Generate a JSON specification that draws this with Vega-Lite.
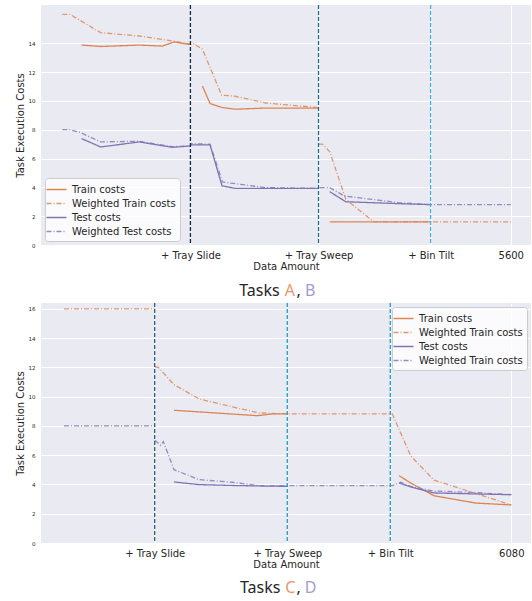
{
  "$schema": "https://vega.github.io/schema/vega-lite/v6.json",
  "background": "white",
  "padding": {"left": 15, "top": 4, "right": 0, "bottom": 0},
  "spacing": 3,
  "config": {
    "view": {"fill": "#eaeaf2", "stroke": null},
    "axis": {"grid": true, "gridColor": "white", "gridWidth": 1, "domain": false, "ticks": false, "tickSize": 0,
      "labelFont": "DejaVu Sans", "titleFont": "DejaVu Sans", "labelColor": "#262626", "titleColor": "#262626",
      "titleFontWeight": "normal", "titleFontSize": 10, "labelOverlap": false},
    "axisX": {"labelFontSize": 10, "labelPadding": 5, "titlePadding": 1, "labelFlush": false},
    "axisY": {"labelFontSize": 5.5, "labelPadding": 6, "titlePadding": 3},
    "legend": {"fillColor": "rgba(255,255,255,0.8)", "strokeColor": "#cccccc", "cornerRadius": 3, "padding": 4,
      "labelFont": "DejaVu Sans", "labelFontSize": 10, "labelColor": "#262626", "labelOffset": 8, "rowPadding": 1,
      "symbolType": "M-1.5,0H1.5", "symbolSize": 178, "symbolStrokeWidth": 1.5, "offset": 4}
  },
  "datasets": {
    "p1": [
      {"series": "Weighted Train costs", "seg": 1, "amount": 0, "cost": 16.0},
      {"series": "Weighted Train costs", "seg": 1, "amount": 96, "cost": 16.0},
      {"series": "Weighted Train costs", "seg": 1, "amount": 480, "cost": 14.73},
      {"series": "Weighted Train costs", "seg": 1, "amount": 960, "cost": 14.5},
      {"series": "Weighted Train costs", "seg": 1, "amount": 1370, "cost": 14.16},
      {"series": "Weighted Train costs", "seg": 1, "amount": 1600, "cost": 13.93},
      {"series": "Weighted Train costs", "seg": 1, "amount": 1630, "cost": 14.0},
      {"series": "Weighted Train costs", "seg": 1, "amount": 1750, "cost": 13.58},
      {"series": "Weighted Train costs", "seg": 1, "amount": 1990, "cost": 10.39},
      {"series": "Weighted Train costs", "seg": 1, "amount": 2140, "cost": 10.34},
      {"series": "Weighted Train costs", "seg": 1, "amount": 2540, "cost": 9.85},
      {"series": "Weighted Train costs", "seg": 1, "amount": 3200, "cost": 9.53},
      {"series": "Weighted Train costs", "seg": 2, "amount": 3200, "cost": 7.0},
      {"series": "Weighted Train costs", "seg": 2, "amount": 3250, "cost": 7.0},
      {"series": "Weighted Train costs", "seg": 2, "amount": 3340, "cost": 6.47},
      {"series": "Weighted Train costs", "seg": 2, "amount": 3540, "cost": 3.17},
      {"series": "Weighted Train costs", "seg": 2, "amount": 3890, "cost": 1.6},
      {"series": "Weighted Train costs", "seg": 2, "amount": 5600, "cost": 1.6},
      {"series": "Train costs", "seg": 1, "amount": 240, "cost": 13.87},
      {"series": "Train costs", "seg": 1, "amount": 480, "cost": 13.77},
      {"series": "Train costs", "seg": 1, "amount": 960, "cost": 13.87},
      {"series": "Train costs", "seg": 1, "amount": 1250, "cost": 13.8},
      {"series": "Train costs", "seg": 1, "amount": 1395, "cost": 14.09},
      {"series": "Train costs", "seg": 1, "amount": 1600, "cost": 13.9},
      {"series": "Train costs", "seg": 2, "amount": 1750, "cost": 11.03},
      {"series": "Train costs", "seg": 2, "amount": 1845, "cost": 9.81},
      {"series": "Train costs", "seg": 2, "amount": 2000, "cost": 9.53},
      {"series": "Train costs", "seg": 2, "amount": 2160, "cost": 9.42},
      {"series": "Train costs", "seg": 2, "amount": 2540, "cost": 9.5},
      {"series": "Train costs", "seg": 2, "amount": 3200, "cost": 9.49},
      {"series": "Train costs", "seg": 3, "amount": 3340, "cost": 1.6},
      {"series": "Train costs", "seg": 3, "amount": 4600, "cost": 1.6},
      {"series": "Weighted Test costs", "seg": 1, "amount": 0, "cost": 8.0},
      {"series": "Weighted Test costs", "seg": 1, "amount": 96, "cost": 8.0},
      {"series": "Weighted Test costs", "seg": 1, "amount": 230, "cost": 7.79},
      {"series": "Weighted Test costs", "seg": 1, "amount": 480, "cost": 7.15},
      {"series": "Weighted Test costs", "seg": 1, "amount": 960, "cost": 7.2},
      {"series": "Weighted Test costs", "seg": 1, "amount": 1370, "cost": 6.82},
      {"series": "Weighted Test costs", "seg": 1, "amount": 1600, "cost": 6.87},
      {"series": "Weighted Test costs", "seg": 1, "amount": 1610, "cost": 7.03},
      {"series": "Weighted Test costs", "seg": 1, "amount": 1845, "cost": 6.99},
      {"series": "Weighted Test costs", "seg": 1, "amount": 2000, "cost": 4.37},
      {"series": "Weighted Test costs", "seg": 1, "amount": 2540, "cost": 3.98},
      {"series": "Weighted Test costs", "seg": 1, "amount": 3200, "cost": 3.93},
      {"series": "Weighted Test costs", "seg": 1, "amount": 3210, "cost": 3.98},
      {"series": "Weighted Test costs", "seg": 1, "amount": 3340, "cost": 3.98},
      {"series": "Weighted Test costs", "seg": 1, "amount": 3520, "cost": 3.4},
      {"series": "Weighted Test costs", "seg": 1, "amount": 4200, "cost": 2.94},
      {"series": "Weighted Test costs", "seg": 1, "amount": 4600, "cost": 2.8},
      {"series": "Weighted Test costs", "seg": 1, "amount": 5600, "cost": 2.8},
      {"series": "Test costs", "seg": 1, "amount": 240, "cost": 7.38},
      {"series": "Test costs", "seg": 1, "amount": 480, "cost": 6.8},
      {"series": "Test costs", "seg": 1, "amount": 960, "cost": 7.15},
      {"series": "Test costs", "seg": 1, "amount": 1370, "cost": 6.78},
      {"series": "Test costs", "seg": 1, "amount": 1600, "cost": 6.87},
      {"series": "Test costs", "seg": 2, "amount": 1600, "cost": 6.94},
      {"series": "Test costs", "seg": 2, "amount": 1845, "cost": 6.94},
      {"series": "Test costs", "seg": 2, "amount": 1995, "cost": 4.1},
      {"series": "Test costs", "seg": 2, "amount": 2160, "cost": 3.93},
      {"series": "Test costs", "seg": 2, "amount": 3200, "cost": 3.93},
      {"series": "Test costs", "seg": 3, "amount": 3340, "cost": 3.7},
      {"series": "Test costs", "seg": 3, "amount": 3540, "cost": 3.0},
      {"series": "Test costs", "seg": 3, "amount": 4200, "cost": 2.87},
      {"series": "Test costs", "seg": 3, "amount": 4600, "cost": 2.8}
    ],
    "p1rules": [
      {"amount": 1600, "boundary": "Tray Slide"},
      {"amount": 3200, "boundary": "Tray Sweep"},
      {"amount": 4600, "boundary": "Bin Tilt"}
    ],
    "p2": [
      {"series": "Weighted Train costs", "seg": 1, "amount": 0, "cost": 16.0},
      {"series": "Weighted Train costs", "seg": 1, "amount": 1233, "cost": 16.0},
      {"series": "Weighted Train costs", "seg": 2, "amount": 1233, "cost": 12.03},
      {"series": "Weighted Train costs", "seg": 2, "amount": 1282, "cost": 12.0},
      {"series": "Weighted Train costs", "seg": 2, "amount": 1495, "cost": 10.82},
      {"series": "Weighted Train costs", "seg": 2, "amount": 1835, "cost": 9.85},
      {"series": "Weighted Train costs", "seg": 2, "amount": 2288, "cost": 9.3},
      {"series": "Weighted Train costs", "seg": 2, "amount": 2651, "cost": 8.89},
      {"series": "Weighted Train costs", "seg": 2, "amount": 3035, "cost": 8.82},
      {"series": "Weighted Train costs", "seg": 2, "amount": 4463, "cost": 8.82},
      {"series": "Weighted Train costs", "seg": 2, "amount": 4713, "cost": 5.95},
      {"series": "Weighted Train costs", "seg": 2, "amount": 5029, "cost": 4.3},
      {"series": "Weighted Train costs", "seg": 2, "amount": 6080, "cost": 2.6},
      {"series": "Train costs", "seg": 2, "amount": 1495, "cost": 9.07},
      {"series": "Train costs", "seg": 2, "amount": 2627, "cost": 8.7},
      {"series": "Train costs", "seg": 2, "amount": 2831, "cost": 8.82},
      {"series": "Train costs", "seg": 2, "amount": 3035, "cost": 8.82},
      {"series": "Train costs", "seg": 3, "amount": 4554, "cost": 4.6},
      {"series": "Train costs", "seg": 3, "amount": 4713, "cost": 4.1},
      {"series": "Train costs", "seg": 3, "amount": 5029, "cost": 3.23},
      {"series": "Train costs", "seg": 3, "amount": 5596, "cost": 2.73},
      {"series": "Train costs", "seg": 3, "amount": 6080, "cost": 2.6},
      {"series": "Weighted Test costs", "seg": 1, "amount": 0, "cost": 8.0},
      {"series": "Weighted Test costs", "seg": 1, "amount": 1233, "cost": 8.0},
      {"series": "Weighted Test costs", "seg": 2, "amount": 1233, "cost": 7.02},
      {"series": "Weighted Test costs", "seg": 2, "amount": 1314, "cost": 6.68},
      {"series": "Weighted Test costs", "seg": 2, "amount": 1350, "cost": 6.93},
      {"series": "Weighted Test costs", "seg": 2, "amount": 1495, "cost": 5.01},
      {"series": "Weighted Test costs", "seg": 2, "amount": 1835, "cost": 4.33},
      {"series": "Weighted Test costs", "seg": 2, "amount": 2288, "cost": 4.15},
      {"series": "Weighted Test costs", "seg": 2, "amount": 2650, "cost": 3.92},
      {"series": "Weighted Test costs", "seg": 2, "amount": 3035, "cost": 3.92},
      {"series": "Weighted Test costs", "seg": 2, "amount": 4463, "cost": 3.92},
      {"series": "Weighted Test costs", "seg": 2, "amount": 4577, "cost": 4.15},
      {"series": "Weighted Test costs", "seg": 2, "amount": 4713, "cost": 3.87},
      {"series": "Weighted Test costs", "seg": 2, "amount": 5029, "cost": 3.55},
      {"series": "Weighted Test costs", "seg": 2, "amount": 5550, "cost": 3.46},
      {"series": "Weighted Test costs", "seg": 2, "amount": 6080, "cost": 3.3},
      {"series": "Test costs", "seg": 2, "amount": 1495, "cost": 4.17},
      {"series": "Test costs", "seg": 2, "amount": 1835, "cost": 3.99},
      {"series": "Test costs", "seg": 2, "amount": 2379, "cost": 3.92},
      {"series": "Test costs", "seg": 2, "amount": 3035, "cost": 3.87},
      {"series": "Test costs", "seg": 3, "amount": 4554, "cost": 4.1},
      {"series": "Test costs", "seg": 3, "amount": 4734, "cost": 3.8},
      {"series": "Test costs", "seg": 3, "amount": 5029, "cost": 3.42},
      {"series": "Test costs", "seg": 3, "amount": 6080, "cost": 3.3}
    ],
    "p2rules": [
      {"amount": 1233, "boundary": "Tray Slide"},
      {"amount": 3035, "boundary": "Tray Sweep"},
      {"amount": 4435, "boundary": "Bin Tilt"}
    ]
  },
  "vconcat": [
    {
      "width": 490,
      "height": 240,
      "layer": [
        {
          "data": {"name": "p1"},
          "mark": {"type": "line", "strokeWidth": 1.3},
          "encoding": {
            "x": {"field": "amount", "type": "quantitative", "title": "Data Amount",
              "scale": {"domain": [-266, 5853], "nice": false, "zero": false},
              "axis": {"values": [1600, 3200, 4600, 5600], "labelOverlap": false,
                "labelExpr": "datum.value == 1600 ? '+ Tray Slide' : datum.value == 3200 ? '+ Tray Sweep' : datum.value == 4600 ? '+ Bin Tilt' : '5600'"}},
            "y": {"field": "cost", "type": "quantitative", "title": "Task Execution Costs",
              "scale": {"domain": [0, 16.65], "nice": false},
              "axis": {"values": [0, 2, 4, 6, 8, 10, 12, 14], "labelOverlap": false, "tickCount": 9}},
            "color": {"field": "series", "type": "nominal",
              "scale": {"domain": ["Train costs", "Weighted Train costs", "Test costs", "Weighted Test costs"],
                "range": ["#dd8452", "#e0986f", "#8172b3", "#968ac0"]},
              "legend": {"title": null, "orient": "bottom-left"}},
            "strokeDash": {"field": "series", "type": "nominal",
              "scale": {"domain": ["Train costs", "Weighted Train costs", "Test costs", "Weighted Test costs"],
                "range": [[1, 0], [5, 2, 1, 2], [1, 0], [5, 2, 1, 2]]},
              "legend": {"title": null, "orient": "bottom-left"}},
            "detail": {"field": "seg", "type": "nominal"},
            "order": {"field": "amount", "type": "quantitative"}
          }
        },
        {
          "data": {"name": "p1rules"},
          "mark": {"type": "rule", "strokeDash": [4, 2], "strokeWidth": 1.3},
          "encoding": {
            "x": {"field": "amount", "type": "quantitative"},
            "stroke": {"field": "boundary", "type": "nominal",
              "scale": {"domain": ["Tray Slide", "Tray Sweep", "Bin Tilt"], "range": ["#102a4c", "#1d6a96", "#3ab0e2"]},
              "legend": null}
          }
        },
        {
          "data": {"values": [{}]},
          "mark": {"type": "text", "font": "Noto Sans", "fontSize": 16, "align": "center", "baseline": "alphabetic", "color": "#262626", "text": "Tasks"},
          "encoding": {"x": {"datum": 2461}, "y": {"datum": -3.52}}
        },
        {
          "data": {"values": [{}]},
          "mark": {"type": "text", "font": "Noto Sans", "fontSize": 16, "align": "center", "baseline": "alphabetic", "color": "#e99868", "text": "A"},
          "encoding": {"x": {"datum": 2841}, "y": {"datum": -3.52}}
        },
        {
          "data": {"values": [{}]},
          "mark": {"type": "text", "font": "Noto Sans", "fontSize": 16, "align": "center", "baseline": "alphabetic", "color": "#262626", "text": ","},
          "encoding": {"x": {"datum": 2950}, "y": {"datum": -3.52}}
        },
        {
          "data": {"values": [{}]},
          "mark": {"type": "text", "font": "Noto Sans", "fontSize": 16, "align": "center", "baseline": "alphabetic", "color": "#a39bd4", "text": "B"},
          "encoding": {"x": {"datum": 3096}, "y": {"datum": -3.52}}
        }
      ]
    },
    {
      "width": 490,
      "height": 240,
      "layer": [
        {
          "data": {"name": "p2"},
          "mark": {"type": "line", "strokeWidth": 1.3},
          "encoding": {
            "x": {"field": "amount", "type": "quantitative", "title": "Data Amount",
              "scale": {"domain": [-313, 6348], "nice": false, "zero": false},
              "axis": {"values": [1233, 3035, 4435, 6080], "labelOverlap": false,
                "labelExpr": "datum.value == 1233 ? '+ Tray Slide' : datum.value == 3035 ? '+ Tray Sweep' : datum.value == 4435 ? '+ Bin Tilt' : '6080'"}},
            "y": {"field": "cost", "type": "quantitative", "title": "Task Execution Costs",
              "scale": {"domain": [0, 16.4], "nice": false},
              "axis": {"values": [0, 2, 4, 6, 8, 10, 12, 14, 16], "labelOverlap": false, "tickCount": 9}},
            "color": {"field": "series", "type": "nominal",
              "scale": {"domain": ["Train costs", "Weighted Train costs", "Test costs", "Weighted Test costs"],
                "range": ["#dd8452", "#e0986f", "#8172b3", "#968ac0"]},
              "legend": {"title": null, "orient": "top-right",
                "labelExpr": "datum.label == 'Weighted Test costs' ? 'Weighted Train costs' : datum.label"}},
            "strokeDash": {"field": "series", "type": "nominal",
              "scale": {"domain": ["Train costs", "Weighted Train costs", "Test costs", "Weighted Test costs"],
                "range": [[1, 0], [5, 2, 1, 2], [1, 0], [5, 2, 1, 2]]},
              "legend": {"title": null, "orient": "top-right",
                "labelExpr": "datum.label == 'Weighted Test costs' ? 'Weighted Train costs' : datum.label"}},
            "detail": {"field": "seg", "type": "nominal"},
            "order": {"field": "amount", "type": "quantitative"}
          }
        },
        {
          "data": {"name": "p2rules"},
          "mark": {"type": "rule", "strokeDash": [4, 2], "strokeWidth": 1.3},
          "encoding": {
            "x": {"field": "amount", "type": "quantitative"},
            "stroke": {"field": "boundary", "type": "nominal",
              "scale": {"domain": ["Tray Slide", "Tray Sweep", "Bin Tilt"], "range": ["#2e5275", "#1a9bd0", "#1a9bd0"]},
              "legend": null}
          }
        },
        {
          "data": {"values": [{}]},
          "mark": {"type": "text", "font": "Noto Sans", "fontSize": 16, "align": "center", "baseline": "alphabetic", "color": "#262626", "text": "Tasks"},
          "encoding": {"x": {"datum": 2667}, "y": {"datum": -3.45}}
        },
        {
          "data": {"values": [{}]},
          "mark": {"type": "text", "font": "Noto Sans", "fontSize": 16, "align": "center", "baseline": "alphabetic", "color": "#e99868", "text": "C"},
          "encoding": {"x": {"datum": 3075}, "y": {"datum": -3.45}}
        },
        {
          "data": {"values": [{}]},
          "mark": {"type": "text", "font": "Noto Sans", "fontSize": 16, "align": "center", "baseline": "alphabetic", "color": "#262626", "text": ","},
          "encoding": {"x": {"datum": 3190}, "y": {"datum": -3.45}}
        },
        {
          "data": {"values": [{}]},
          "mark": {"type": "text", "font": "Noto Sans", "fontSize": 16, "align": "center", "baseline": "alphabetic", "color": "#a39bd4", "text": "D"},
          "encoding": {"x": {"datum": 3353}, "y": {"datum": -3.45}}
        }
      ]
    }
  ],
  "resolve": {"scale": {"x": "independent", "y": "independent", "color": "independent", "strokeDash": "independent", "stroke": "independent"},
    "legend": {"color": "independent", "strokeDash": "independent"}}
}
